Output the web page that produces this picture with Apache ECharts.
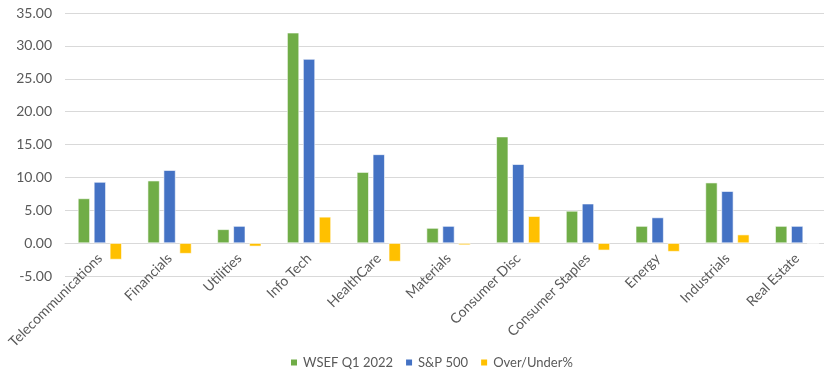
<!DOCTYPE html>
<html>
<head>
<meta charset="utf-8">
<script src="https://cdn.jsdelivr.net/npm/echarts@6/dist/echarts.min.js"></script>
<style>
  html, body { margin: 0; padding: 0; background: #fff; }
  #chart { width: 824px; height: 374px; }
</style>
</head>
<body>
<div id="chart"></div>
<script>
const sectors = [
  "Telecommunications", "Financials", "Utilities", "Info Tech", "HealthCare",
  "Materials", "Consumer Disc", "Consumer Staples", "Energy", "Industrials", "Real Estate"
];
const wsefQ1 = [6.8, 9.5, 2.1, 32.0, 10.8, 2.3, 16.2, 4.9, 2.6, 9.2, 2.6];
const sp500 = [9.3, 11.1, 2.6, 28.0, 13.5, 2.6, 12.0, 6.0, 3.9, 7.9, 2.6];
const overUnder = [-2.5, -1.6, -0.5, 4.0, -2.8, -0.3, 4.1, -1.1, -1.3, 1.3, 0.0];

const seriesNames = ["WSEF Q1 2022", "S&P 500", "Over/Under%"];
const seriesColors = ["#70AD47", "#4472C4", "#FFC000"];
const seriesData = [wsefQ1, sp500, overUnder];

const font = "Lato, 'Liberation Sans', sans-serif";

const chart = echarts.init(document.getElementById("chart"), undefined, { renderer: "canvas" });

chart.setOption({
  animation: false,
  textStyle: { fontFamily: font },
  grid: { left: 65, top: 13, width: 767, bottom: 98, outerBoundsMode: "none", containLabel: false },
  legend: {
    bottom: 0,
    left: 284,
    itemWidth: 8,
    itemHeight: 8,
    itemGap: 11,
    icon: "rect",
    textStyle: { color: "#595959", fontSize: 13, fontFamily: font },
    data: seriesNames,
  },
  xAxis: {
    type: "category",
    data: sectors,
    // keep the category labels next to the zero line, like the original
    offset: -33,
    axisLine: { onZero: false, lineStyle: { color: "#d9d9d9", width: 1 } },
    axisTick: { show: false },
    axisLabel: {
      rotate: 45,
      interval: 0,
      margin: 13,
      color: "#595959",
      fontSize: 14,
      fontFamily: font,
    },
  },
  yAxis: {
    type: "value",
    min: -5,
    max: 35,
    interval: 5,
    axisLine: { show: false },
    axisTick: { show: false },
    axisLabel: {
      color: "#595959",
      fontSize: 14,
      margin: 13,
      fontFamily: font,
      formatter: (v) => v.toFixed(2),
    },
    splitLine: { lineStyle: { color: "#d9d9d9", width: 1 } },
  },
  series: seriesNames.map((name, i) => ({
    name,
    type: "bar",
    data: seriesData[i],
    barWidth: 12,
    barGap: "33%",
    itemStyle: { color: seriesColors[i], borderColor: "#ffffff", borderWidth: 0.6 },
  })),
});
</script>
</body>
</html>
